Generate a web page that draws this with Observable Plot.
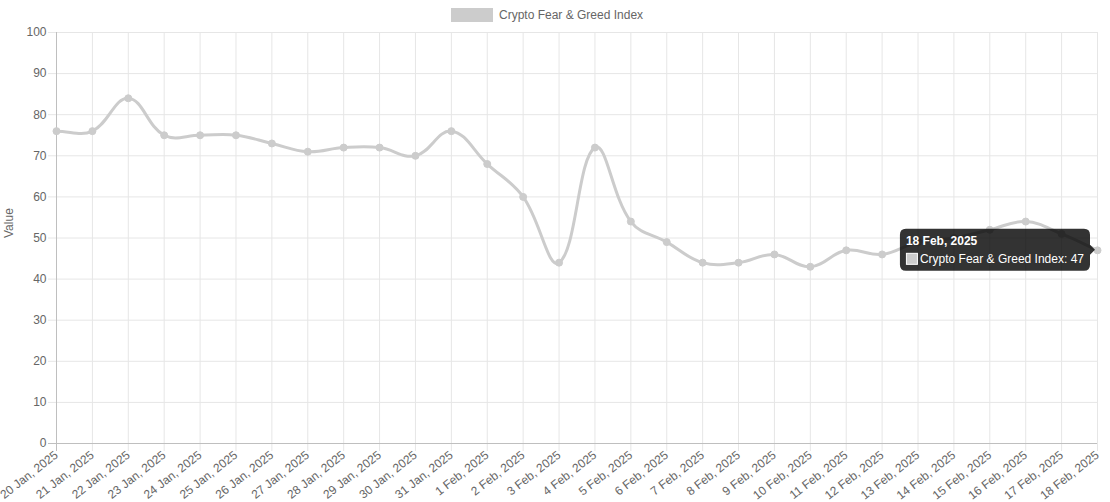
<!DOCTYPE html>
<html>
<head>
<meta charset="utf-8">
<script src="https://cdn.jsdelivr.net/npm/d3@7"></script>
<script src="https://cdn.jsdelivr.net/npm/@observablehq/plot@0.6"></script>
<style>
  html, body { margin: 0; padding: 0; background: #fff; }
  body { width: 1110px; height: 502px; overflow: hidden; font-family: "Liberation Sans", Arial, Helvetica, sans-serif; }
  #legend { position: relative; height: 26px; width: 1110px; }
  #legend .box { position: absolute; left: 452px; top: 9.5px; width: 40px; height: 12px; background: #cccccc; border: 1.5px solid #cccccc; box-sizing: content-box; margin-left: -1.5px; margin-top: -1.5px; }
  #legend .lab { position: absolute; left: 499px; top: 8px; font-size: 12px; line-height: 14px; color: #666; white-space: nowrap; }
  #chart svg { display: block; }
</style>
</head>
<body>
<div id="legend"><div class="box"></div><div class="lab"></div></div>
<div id="chart"></div>
<script>
// ---- data ----
const seriesName = "Crypto Fear & Greed Index";
const dates = [
  "20 Jan, 2025", "21 Jan, 2025", "22 Jan, 2025", "23 Jan, 2025", "24 Jan, 2025",
  "25 Jan, 2025", "26 Jan, 2025", "27 Jan, 2025", "28 Jan, 2025", "29 Jan, 2025",
  "30 Jan, 2025", "31 Jan, 2025", "1 Feb, 2025", "2 Feb, 2025", "3 Feb, 2025",
  "4 Feb, 2025", "5 Feb, 2025", "6 Feb, 2025", "7 Feb, 2025", "8 Feb, 2025",
  "9 Feb, 2025", "10 Feb, 2025", "11 Feb, 2025", "12 Feb, 2025", "13 Feb, 2025",
  "14 Feb, 2025", "15 Feb, 2025", "16 Feb, 2025", "17 Feb, 2025", "18 Feb, 2025"
];
const values = [
  76, 76, 84, 75, 75,
  75, 73, 71, 72, 72,
  70, 76, 68, 60, 44,
  72, 54, 49, 44, 44,
  46, 43, 47, 46, 49,
  50, 52, 54, 51, 47
];
const yTicks = [0, 10, 20, 30, 40, 50, 60, 70, 80, 90, 100];
const yLabel = "Value";
const tooltipIndex = 29;

const data = dates.map((d, i) => ({i, date: d, value: values[i]}));
const xIdx = dates.map((d, i) => i);

document.querySelector("#legend .lab").textContent = seriesName;

const lineColor = "#cccccc";
const gridColor = "#e6e6e6";
const zeroColor = "#bfbfbf";
const textColor = "#666";

// Chart.js-like bezier spline (tension 0.4)
function chartjsCurve(context) {
  let pts;
  return {
    areaStart() {}, areaEnd() {},
    lineStart() { pts = []; },
    point(x, y) { pts.push([+x, +y]); },
    lineEnd() {
      const n = pts.length;
      if (!n) return;
      const t = 0.4;
      const cps = pts.map((p, i) => {
        const prev = pts[Math.max(0, i - 1)], next = pts[Math.min(n - 1, i + 1)];
        const d01 = Math.hypot(p[0] - prev[0], p[1] - prev[1]);
        const d12 = Math.hypot(next[0] - p[0], next[1] - p[1]);
        let s01 = d01 / (d01 + d12), s12 = d12 / (d01 + d12);
        if (!isFinite(s01)) s01 = 0;
        if (!isFinite(s12)) s12 = 0;
        const fa = t * s01, fb = t * s12;
        return {
          prev: [p[0] - fa * (next[0] - prev[0]), p[1] - fa * (next[1] - prev[1])],
          next: [p[0] + fb * (next[0] - prev[0]), p[1] + fb * (next[1] - prev[1])]
        };
      });
      context.moveTo(pts[0][0], pts[0][1]);
      for (let i = 1; i < n; i++) {
        context.bezierCurveTo(cps[i - 1].next[0], cps[i - 1].next[1], cps[i].prev[0], cps[i].prev[1], pts[i][0], pts[i][1]);
      }
    }
  };
}

// measuring text
const mctx = document.createElement("canvas").getContext("2d");
function textWidth(s, font) { mctx.font = font; return mctx.measureText(s).width; }

function tooltipMark(index, scales) {
  const d = data[tooltipIndex];
  const px = scales.x(d.i), py = scales.y(d.value);
  const title = d.date;
  const body = `${seriesName}: ${d.value}`;
  const fontFam = '"Liberation Sans", Arial, Helvetica, sans-serif';
  const tw = textWidth(title, `bold 12px ${fontFam}`);
  const bw = textWidth(body, `12px ${fontFam}`) + 14;
  const w = Math.max(tw, bw) + 12;
  const h = 6 + 12 + 6 + 12 + 6;
  const caret = 5, r = 6;
  const x0 = px - 2 - caret - w, y0 = py - h / 2, x1 = x0 + w, y1 = y0 + h;
  const p = d3.path();
  p.moveTo(x0 + r, y0);
  p.lineTo(x1 - r, y0);
  p.quadraticCurveTo(x1, y0, x1, y0 + r);
  p.lineTo(x1, py - caret);
  p.lineTo(x1 + caret, py);
  p.lineTo(x1, py + caret);
  p.lineTo(x1, y1 - r);
  p.quadraticCurveTo(x1, y1, x1 - r, y1);
  p.lineTo(x0 + r, y1);
  p.quadraticCurveTo(x0, y1, x0, y1 - r);
  p.lineTo(x0, y0 + r);
  p.quadraticCurveTo(x0, y0, x0 + r, y0);
  p.closePath();
  const g = d3.create("svg:g").attr("text-anchor", "start")
    .attr("font-family", fontFam);
  g.append("path").attr("d", p.toString()).attr("fill", "rgba(0,0,0,0.8)");
  g.append("text").attr("x", x0 + 6).attr("y", y0 + 6).attr("dy", "0.85em")
    .attr("fill", "#fff").attr("font-weight", "bold").attr("font-size", 12).text(title);
  g.append("rect").attr("x", x0 + 6.5).attr("y", y0 + 24.5).attr("width", 11).attr("height", 11)
    .attr("fill", lineColor).attr("stroke", "#fff").attr("stroke-width", 1);
  g.append("text").attr("x", x0 + 6 + 14).attr("y", y0 + 24).attr("dy", "0.85em")
    .attr("fill", "#fff").attr("font-size", 12).text(body);
  return g.node();
}

const chart = Plot.plot({
  width: 1110,
  height: 476,
  marginTop: 6,
  marginLeft: 56,
  marginRight: 13,
  marginBottom: 59,
  style: {fontFamily: '"Liberation Sans", Arial, Helvetica, sans-serif', fontSize: "12px", color: textColor, background: "#fff"},
  x: {type: "linear", domain: [0, dates.length - 1]},
  y: {domain: [0, 100]},
  marks: [
    Plot.gridX(xIdx, {stroke: gridColor, strokeOpacity: 1}),
    Plot.gridY(yTicks, {stroke: gridColor, strokeOpacity: 1}),
    Plot.axisY({ticks: yTicks, tickSize: 8, tickPadding: 2, stroke: gridColor, strokeOpacity: 1, fill: textColor, label: null}),
    Plot.axisX({ticks: xIdx, tickFormat: i => dates[i], tickSize: 8, tickPadding: 2, tickRotate: -38, stroke: gridColor, strokeOpacity: 1, fill: textColor, label: null}),
    Plot.ruleY([0], {stroke: zeroColor, insetLeft: -8}),
    Plot.ruleX([0], {stroke: zeroColor, insetBottom: -8}),
    Plot.text([yLabel], {text: d => d, frameAnchor: "left", rotate: -90, dx: -47, fill: textColor, fontSize: 12}),
    Plot.line(data, {x: "i", y: "value", stroke: lineColor, strokeWidth: 3, curve: chartjsCurve}),
    Plot.dot(data, {x: "i", y: "value", r: 3.5, fill: lineColor, stroke: lineColor, strokeWidth: 1}),
    tooltipMark
  ]
});
document.getElementById("chart").appendChild(chart);
</script>
</body>
</html>
